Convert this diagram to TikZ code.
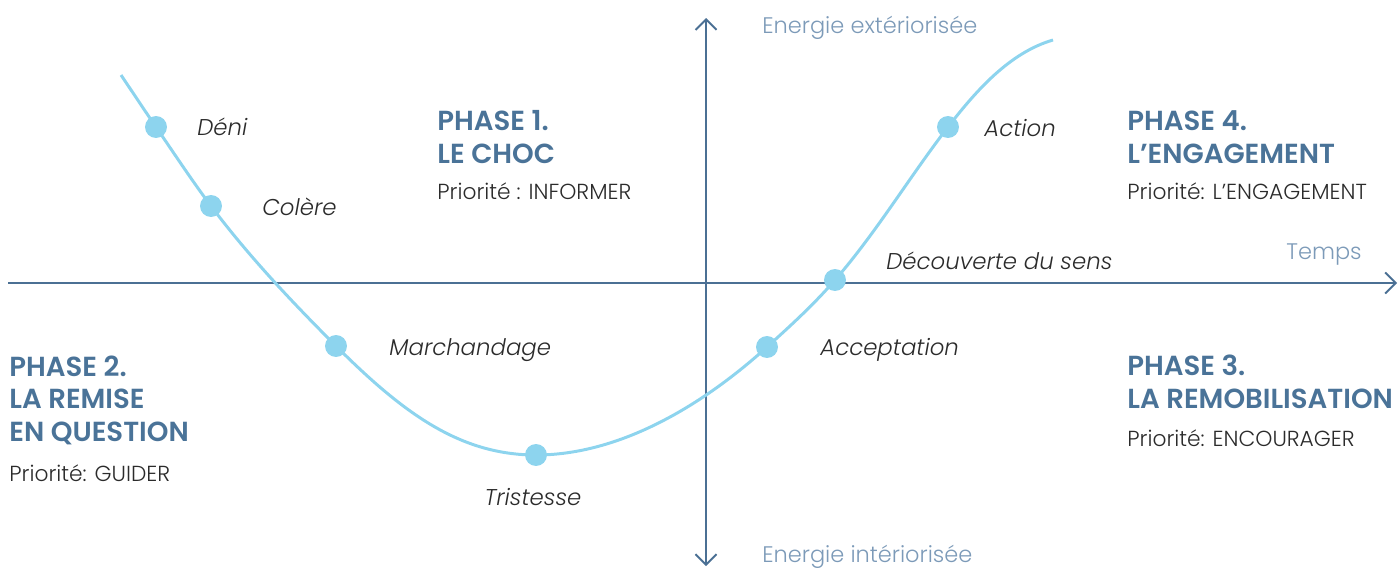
\documentclass[tikz,border=0pt]{standalone}
\usepackage{fontspec}
\setmainfont{Poppins}[UprightFont=* Light, ItalicFont=* Light Italic, BoldFont=* SemiBold]
\usetikzlibrary{positioning, arrows.meta}
\definecolor{axisblue}{HTML}{4B7094}
\definecolor{headblue}{HTML}{4A7398}
\definecolor{labelblue}{HTML}{7C9AB8}
\definecolor{curveblue}{HTML}{8DD4EE}
\definecolor{txtgray}{HTML}{2B2B2B}

\tikzset{
  axis/.style={draw=axisblue, line width=1.1pt},
  axislabel/.style={text=labelblue, font=\fontsize{12.8}{16}\selectfont, inner sep=0pt},
  dot/.style={circle, fill=curveblue, minimum size=12.5pt, inner sep=0pt},
  stage/.style={text=txtgray, font=\itshape\fontsize{13}{16}\selectfont, inner sep=0pt},
  phase/.style={text=headblue, font=\bfseries\fontsize{15.7}{18.3}\selectfont, align=left, inner sep=0pt},
  prio/.style={text=txtgray, font=\fontsize{12.4}{16}\selectfont, inner sep=0pt}
}

\begin{document}
\begin{tikzpicture}[x=0.02cm, y=-0.02cm]
  \useasboundingbox (0,0) rectangle (1398,569);

  % Axes
  \coordinate (xstart) at (8,283);
  \coordinate (xend) at (1397,283);
  \coordinate (ytop) at (706,18);
  \coordinate (ybot) at (706,566);
  \draw[axis, -{Straight Barb[length=6pt, width=12pt]}] (xstart) -- (xend);
  \draw[axis, {Straight Barb[length=6pt, width=12pt]}-{Straight Barb[length=6pt, width=12pt]}] (ybot) -- (ytop);

  \node[axislabel, anchor=base west] (ext) at (762,33) {Energie extériorisée};
  \node[axislabel, anchor=base west] (int) at (762,562) {Energie intériorisée};
  \node[axislabel, anchor=base east] (temps) at (1362,259) {Temps};

  % Curve
  \coordinate (cstart) at (121,75);
  \coordinate (cend) at (1053,40);
  \coordinate (pdeni) at (156,127);
  \coordinate (pcolere) at (211,206);
  \coordinate (pmarch) at (336,346);
  \coordinate (ptrist) at (536,455);
  \coordinate (paccept) at (767,347);
  \coordinate (pdecouv) at (835,280);
  \coordinate (paction) at (948,127);
  \draw[curveblue, line width=1.7pt] (cstart)
    .. controls +(11.7,17.4) and +(-11.9,-17.3) .. (pdeni)
    .. controls +(18.1,26.4) and +(-19.2,-25.6) .. (pcolere)
    .. controls +(37.6,50.1) and +(-44.3,-44.3) .. (pmarch)
    .. controls +(67.2,67.2) and +(-76,0) .. (ptrist)
    .. controls +(85,0) and +(-62.9,57) .. (paccept)
    .. controls +(23.7,-21.4) and +(-21,24.3) .. (pdecouv)
    .. controls +(41.6,-47.9) and +(-38.7,50.1) .. (paction)
    .. controls +(27.8,-35.9) and +(-43.7,12.7) .. (cend);

  % Dots
  \node[dot] (deni) at (pdeni) {};
  \node[dot] (colere) at (pcolere) {};
  \node[dot] (marchandage) at (pmarch) {};
  \node[dot] (tristesse) at (ptrist) {};
  \node[dot] (acceptation) at (paccept) {};
  \node[dot] (decouverte) at (pdecouv) {};
  \node[dot] (action) at (paction) {};

  % Stage labels
  \node[stage, anchor=base west] (ldeni) at (197,135) {Déni};
  \node[stage, anchor=base west] (lcolere) at (262,215) {Colère};
  \node[stage, anchor=base west] (lmarch) at (389,355) {Marchandage};
  \node[stage, anchor=base] (ltrist) at (533,505) {Tristesse};
  \node[stage, anchor=base west] (laccept) at (820,355) {Acceptation};
  \node[stage, anchor=base west] (ldecouv) at (886,269) {Découverte du sens};
  \node[stage, anchor=base west] (laction) at (984,136) {Action};

  % Phases (base anchor sits on the last line)
  \node[phase, anchor=base west] (ph1) at (437,163) {PHASE 1.\\LE CHOC};
  \node[prio, anchor=base west] (pr1) at (437,199) {Priorité : INFORMER};

  \node[phase, anchor=base west] (ph4) at (1127,163) {PHASE 4.\\L’ENGAGEMENT};
  \node[prio, anchor=base west] (pr4) at (1127,199) {Priorité: L’ENGAGEMENT};

  \node[phase, anchor=base west] (ph3) at (1127,408) {PHASE 3.\\LA REMOBILISATION};
  \node[prio, anchor=base west] (pr3) at (1127,446) {Priorité: ENCOURAGER};

  \node[phase, anchor=base west] (ph2) at (9,441) {PHASE 2.\\LA REMISE\\EN QUESTION};
  \node[prio, anchor=base west] (pr2) at (9,481) {Priorité: GUIDER};
\end{tikzpicture}
\end{document}
